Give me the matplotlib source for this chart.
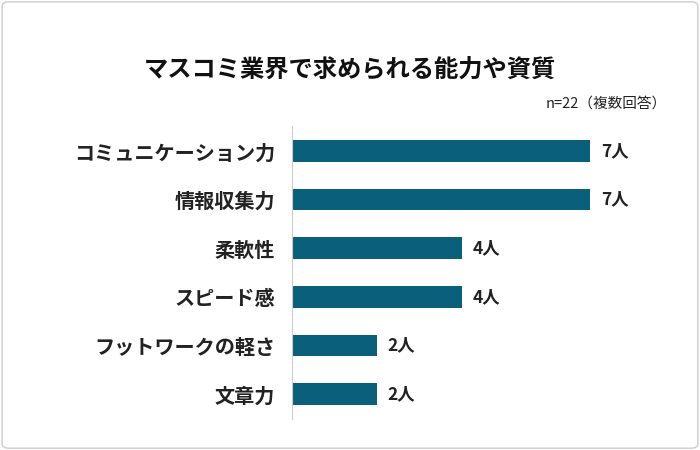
import matplotlib
matplotlib.use("Agg")
import matplotlib.pyplot as plt
from matplotlib.patches import FancyBboxPatch

categories = ["コミュニケーション力", "情報収集力", "柔軟性", "スピード感", "フットワークの軽さ", "文章力"]
values = [7, 7, 4, 4, 2, 2]
value_labels = ["7人", "7人", "4人", "4人", "2人", "2人"]

plt.rcParams["font.family"] = "Noto Sans CJK JP"
fig = plt.figure(figsize=(7, 4.5), dpi=100)
fig.patches.append(FancyBboxPatch((0.003, 0.004), 0.994, 0.992, boxstyle="round,pad=0,rounding_size=0.01",
                                  transform=fig.transFigure, fill=False, edgecolor="#cccccc", linewidth=1))
ax = fig.add_axes([0.417, 0.07, 0.569, 0.649])
ys = list(range(len(categories)))
ax.barh(ys, values, height=0.45, color="#0a5f7a")
for y, v, t in zip(ys, values, value_labels):
    ax.text(v + 0.25, y, t, va="center", ha="left", fontsize=12.5, fontweight="bold", color="#222222")
ax.set_xlim(0, 9.35)
ax.set_ylim(5.5, -0.5)
ax.set_yticks(ys)
ax.set_yticklabels(categories, fontsize=14.5, fontweight="bold", color="#222222")
ax.tick_params(axis="y", length=0, pad=12)
ax.set_xticks([])
for s in ["top", "right", "bottom"]:
    ax.spines[s].set_visible(False)
ax.spines["left"].set_color("#cccccc")
fig.text(0.5, 0.845, "マスコミ業界で求められる能力や資質", ha="center", va="center", fontsize=17.5, fontweight="bold", color="#111111")
fig.text(0.952, 0.77, "n=22（複数回答）", ha="right", va="center", fontsize=10.5, color="#222222")
fig.savefig("out.png", dpi=100)
